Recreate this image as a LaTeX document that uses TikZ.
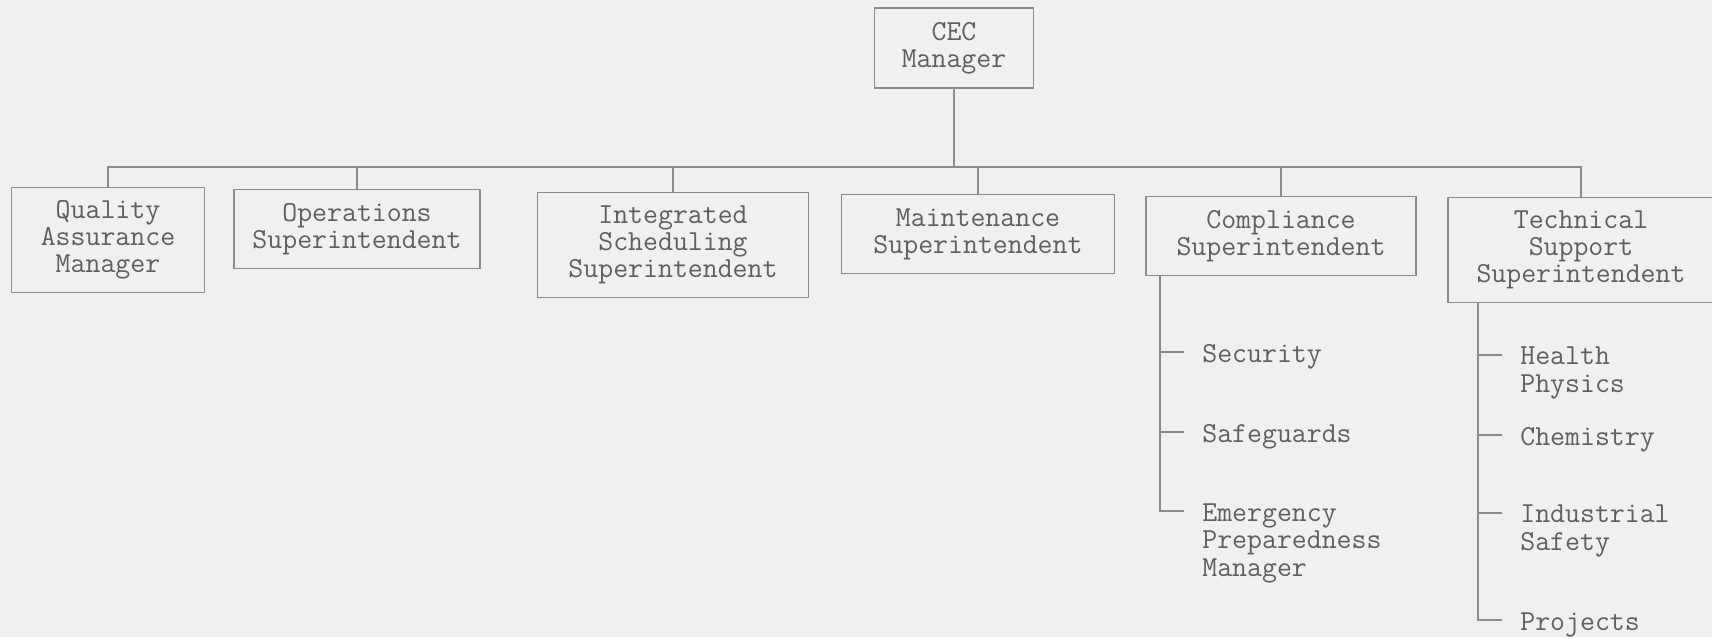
\documentclass[tikz,border=0pt]{standalone}
\usetikzlibrary{positioning}
\definecolor{paper}{RGB}{240,240,240}
\definecolor{ink}{RGB}{95,95,95}
\definecolor{rule}{RGB}{140,140,140}
\tikzstyle{wire}=[draw=rule, line width=0.9pt]
\tikzstyle{post}=[draw=rule, line width=0.9pt, text=ink, align=center, inner sep=0pt,
    font=\ttfamily\fontsize{16.5}{15.4}\selectfont]
\tikzstyle{twoline}=[post, minimum height=1.58cm]
\tikzstyle{threeline}=[post, minimum height=2.1cm]
\tikzstyle{duty}=[text=ink, align=left, inner sep=0pt, anchor=base west,
    font=\ttfamily\fontsize{16.5}{15.6}\selectfont]

\begin{document}
\begin{tikzpicture}[x=0.02cm, y=-0.02cm]
            \fill[paper] (0,0) rectangle (1712,637);
            \useasboundingbox (0,0) rectangle (1712,637);

            \node[twoline, minimum width=3.18cm, minimum height=1.6cm] (cec) at (954,48) {CEC\\Manager};

            \node[threeline, minimum width=3.86cm] (qa) at (108,240) {Quality\\Assurance\\Manager};
            \node[twoline, minimum width=4.92cm] (ops) at (357,229) {Operations\\Superintendent};
            \node[threeline, minimum width=5.42cm] (sched) at (673,245) {Integrated\\Scheduling\\Superintendent};
            \node[twoline, minimum width=5.46cm] (maint) at (978,234) {Maintenance\\Superintendent};
            \node[twoline, minimum width=5.40cm] (compl) at (1281,236) {Compliance\\Superintendent};
            \node[threeline, minimum width=5.32cm] (tech) at (1581,250) {Technical\\Support\\Superintendent};

            \coordinate (bus) at (0,167);
            \draw[wire] (cec.south) -- (cec.south |- bus);
            \draw[wire] (qa.north) -- (qa.north |- bus) -- (tech.north |- bus) -- (tech.north);
            \foreach \n in {ops,sched,maint,compl}
                \draw[wire] (\n.north) -- (\n.north |- bus);

            \coordinate (ctop) at ([xshift=0.3cm]compl.south west);
            \coordinate (c1) at (1184,352);
            \coordinate (c2) at (1184,432);
            \coordinate (c3) at (1184,511);
            \draw[wire] (ctop) |- (c3);
            \draw[wire] (ctop |- c1) -- (c1);
            \draw[wire] (ctop |- c2) -- (c2);
            \node[duty] (security) at (1202,362) {Security};
            \node[duty] (safeguards) at (1202,442) {Safeguards};
            \node[duty] (emergency) at (1202,576) {Emergency\\Preparedness\\Manager};

            \coordinate (ttop) at ([xshift=0.62cm]tech.south west);
            \coordinate (t1) at (1502,355);
            \coordinate (t2) at (1502,435);
            \coordinate (t3) at (1502,513);
            \coordinate (t4) at (1502,620);
            \draw[wire] (ttop) |- (t4);
            \draw[wire] (ttop |- t1) -- (t1);
            \draw[wire] (ttop |- t2) -- (t2);
            \draw[wire] (ttop |- t3) -- (t3);
            \node[duty] (health) at (1520,392) {Health\\Physics};
            \node[duty] (chemistry) at (1520,445) {Chemistry};
            \node[duty] (industrial) at (1520,550) {Industrial\\Safety};
            \node[duty] (projects) at (1520,630) {Projects};
\end{tikzpicture}
\end{document}
